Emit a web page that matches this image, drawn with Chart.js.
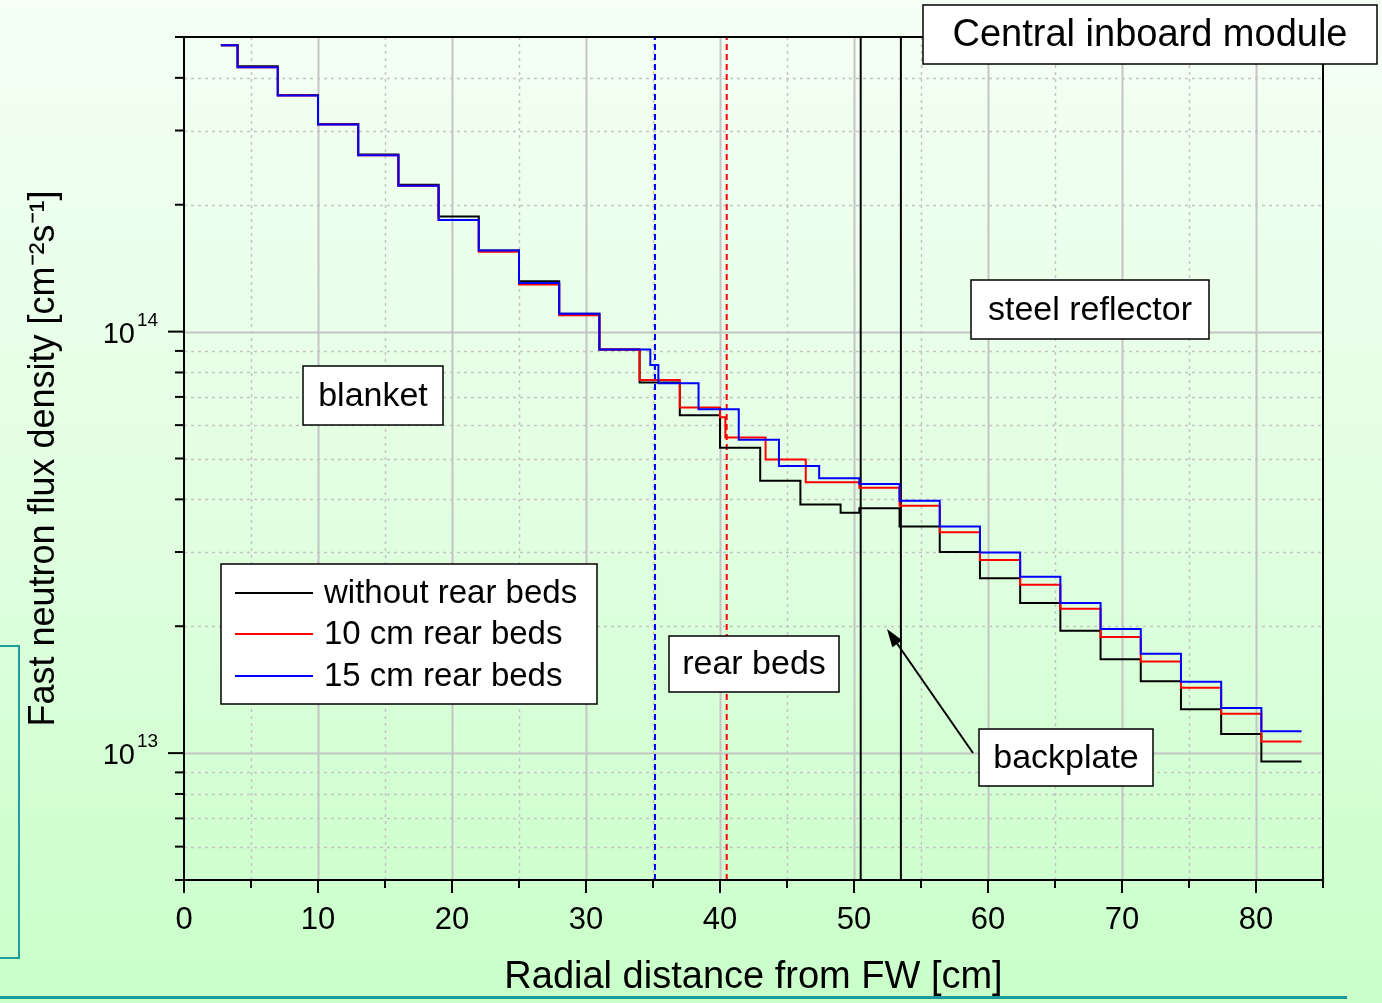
<!DOCTYPE html>
<html>
<head>
<meta charset="utf-8">
<script src="https://cdn.jsdelivr.net/npm/chart.js@4.4.1/dist/chart.umd.min.js"></script>
<style>
  html, body {
    margin: 0;
    padding: 0;
    width: 1382px;
    height: 1003px;
    overflow: hidden;
    background: linear-gradient(to bottom, #f5fff5 0%, #e4ffe4 45%, #c9ffc9 100%);
  }
  #wrap { position: relative; width: 1382px; height: 1003px; }
  #chart { position: absolute; left: 0; top: 0; z-index: 2; }
  .side-box {
    position: absolute; left: -2px; top: 645px; width: 18px; height: 310px;
    border: 2px solid #1f9e9e; z-index: 1;
  }
  .bottom-rule {
    position: absolute; left: 0; top: 996px; width: 1347px; height: 3px;
    background: #1a9a9a; z-index: 1;
  }
</style>
</head>
<body>
<div id="wrap">
  <div class="side-box"></div>
  <div class="bottom-rule"></div>
  <canvas id="chart" width="1382" height="1003"></canvas>
</div>
<script>
// step edges (cm) and flux per bin (cm^-2 s^-1)
const edgesNoBeds = [2.75, 4, 7, 10, 13, 16, 19, 22, 25, 28, 31, 34, 37, 40, 43, 46, 49, 50.4,
  53.4, 56.4, 59.4, 62.4, 65.4, 68.4, 71.4, 74.4, 77.4, 80.4, 83.4];
const fluxNoBeds = [4.78e14, 4.26e14, 3.64e14, 3.11e14, 2.63e14, 2.23e14, 1.875e14, 1.557e14,
  1.316e14, 1.102e14, 9.07e13, 7.57e13, 6.33e13, 5.30e13, 4.43e13, 3.89e13, 3.72e13, 3.81e13,
  3.45e13, 3.00e13, 2.60e13, 2.27e13, 1.95e13, 1.67e13, 1.48e13, 1.27e13, 1.11e13, 9.55e12];

const edges10cm = [2.75, 4, 7, 10, 13, 16, 19, 22, 25, 28, 31, 34, 37, 40, 40.4, 43.4, 46.4, 50.4,
  53.4, 56.4, 59.4, 62.4, 65.4, 68.4, 71.4, 74.4, 77.4, 80.4, 83.4];
const flux10cm = [4.78e14, 4.24e14, 3.63e14, 3.10e14, 2.62e14, 2.22e14, 1.84e14, 1.546e14,
  1.294e14, 1.094e14, 9.07e13, 7.68e13, 6.61e13, 6.26e13, 5.61e13, 4.97e13, 4.39e13, 4.26e13,
  3.86e13, 3.34e13, 2.87e13, 2.51e13, 2.20e13, 1.885e13, 1.65e13, 1.43e13, 1.24e13, 1.066e13];

const edges15cm = [2.75, 4, 7, 10, 13, 16, 19, 22, 25, 28, 31, 34.8, 35.4, 38.4, 41.4, 44.4, 47.4,
  50.4, 53.4, 56.4, 59.4, 62.4, 65.4, 68.4, 71.4, 74.4, 77.4, 80.4, 83.4];
const flux15cm = [4.78e14, 4.24e14, 3.63e14, 3.10e14, 2.62e14, 2.22e14, 1.84e14, 1.557e14,
  1.304e14, 1.102e14, 9.07e13, 8.33e13, 7.54e13, 6.54e13, 5.54e13, 4.80e13, 4.49e13, 4.35e13,
  3.97e13, 3.45e13, 2.99e13, 2.62e13, 2.27e13, 1.97e13, 1.72e13, 1.477e13, 1.279e13, 1.127e13];

// region boundaries: 15 cm beds end, 10 cm beds end, backplate front / back
const boundaryX = [35.15, 40.5, 50.5, 53.5];

const seriesNames = ['without rear beds', '10 cm rear beds', '15 cm rear beds'];
const xTickLabels = [0, 10, 20, 30, 40, 50, 60, 70, 80];
const yDecades = [13, 14];
const xRange = [0, 85];
const yRange = [5e12, 5e14];

const FONT = '"Liberation Sans", Arial, Helvetica, sans-serif';
Chart.defaults.font.family = FONT;
Chart.defaults.color = '#000';

const toSteps = (edges, vals) => {
  const pts = vals.map((v, i) => ({x: edges[i], y: v}));
  pts.push({x: edges[edges.length - 1], y: vals[vals.length - 1]});
  return pts;
};
const vline = x => [{x: x, y: yRange[0]}, {x: x, y: yRange[1]}];

// chart.js 'before' = horizontal first, then the vertical drop at the next edge
const stepStyle = {stepped: 'before', borderWidth: 2, pointRadius: 0, fill: false};

const drawBox = (ctx, text, left, top, w, h, size) => {
  ctx.save();
  ctx.fillStyle = '#fff';
  ctx.fillRect(left, top, w, h);
  ctx.strokeStyle = '#000';
  ctx.lineWidth = 1.5;
  ctx.strokeRect(left, top, w, h);
  ctx.fillStyle = '#000';
  ctx.font = size + 'px ' + FONT;
  ctx.textAlign = 'center';
  ctx.textBaseline = 'middle';
  ctx.fillText(text, left + w / 2, top + h / 2 + 1);
  ctx.restore();
};

const framePlugin = {
  id: 'frame',
  beforeDatasetsDraw(chart) {
    const {ctx, chartArea: a, scales: {x, y}} = chart;
    ctx.save();
    // vertical grid
    for (let v = xRange[0] + 5; v < xRange[1]; v += 5) {
      const px = Math.round(x.getPixelForValue(v)) + 0.5;
      const major = v % 10 === 0;
      ctx.strokeStyle = '#c4c4c4';
      ctx.lineWidth = major ? 2 : 1.5;
      ctx.setLineDash(major ? [] : [3, 4]);
      ctx.beginPath();
      ctx.moveTo(px, a.top);
      ctx.lineTo(px, a.bottom);
      ctx.stroke();
    }
    // horizontal grid
    for (let d = 12; d <= 14; d++) {
      for (let m = 1; m <= 9; m++) {
        const v = m * Math.pow(10, d);
        if (v <= yRange[0] || v >= yRange[1]) continue;
        const py = Math.round(y.getPixelForValue(v)) + 0.5;
        ctx.strokeStyle = '#c4c4c4';
        ctx.lineWidth = m === 1 ? 2 : 1.5;
        ctx.setLineDash(m === 1 ? [] : [3, 4]);
        ctx.beginPath();
        ctx.moveTo(a.left, py);
        ctx.lineTo(a.right, py);
        ctx.stroke();
      }
    }
    ctx.restore();
  },
  afterDatasetsDraw(chart) {
    const {ctx, chartArea: a, scales: {x, y}} = chart;
    ctx.save();
    ctx.strokeStyle = '#000';
    ctx.lineWidth = 2;
    ctx.setLineDash([]);
    ctx.strokeRect(a.left, a.top, a.right - a.left, a.bottom - a.top);

    // x ticks
    for (let v = xRange[0]; v <= xRange[1]; v += 5) {
      const px = x.getPixelForValue(v);
      const len = v % 10 === 0 ? 13 : 8;
      ctx.beginPath();
      ctx.moveTo(px, a.bottom);
      ctx.lineTo(px, a.bottom + len);
      ctx.stroke();
    }
    // y ticks
    for (let d = 12; d <= 14; d++) {
      for (let m = 1; m <= 9; m++) {
        const v = m * Math.pow(10, d);
        if (v < yRange[0] || v > yRange[1]) continue;
        const py = y.getPixelForValue(v);
        const len = m === 1 ? 16 : 9;
        ctx.beginPath();
        ctx.moveTo(a.left - len, py);
        ctx.lineTo(a.left, py);
        ctx.stroke();
      }
    }
    // y tick labels 10^n
    ctx.fillStyle = '#000';
    yDecades.forEach(d => {
      const py = y.getPixelForValue(Math.pow(10, d));
      ctx.font = '29px ' + FONT;
      ctx.textAlign = 'right';
      ctx.textBaseline = 'alphabetic';
      ctx.fillText('10', a.left - 49, py + 11);
      ctx.font = '19px ' + FONT;
      ctx.textAlign = 'left';
      ctx.fillText(String(d), a.left - 47, py - 6);
    });

    // annotation boxes
    drawBox(ctx, 'Central inboard module', 923, 5, 454, 59, 38);
    drawBox(ctx, 'steel reflector', 971, 280, 238, 59, 34);
    drawBox(ctx, 'blanket', 303, 366, 140, 59, 34);
    drawBox(ctx, 'rear beds', 669, 636, 170, 56, 34);
    drawBox(ctx, 'backplate', 979, 729, 174, 57, 34);

    // arrow to backplate
    const tail = [973, 753], tip = [887, 629];
    const ang = Math.atan2(tip[1] - tail[1], tip[0] - tail[0]);
    ctx.strokeStyle = '#000';
    ctx.lineWidth = 2;
    ctx.beginPath();
    ctx.moveTo(tail[0], tail[1]);
    ctx.lineTo(tip[0] - 10 * Math.cos(ang), tip[1] - 10 * Math.sin(ang));
    ctx.stroke();
    ctx.beginPath();
    ctx.moveTo(tip[0], tip[1]);
    ctx.lineTo(tip[0] - 18 * Math.cos(ang) + 6 * Math.sin(ang), tip[1] - 18 * Math.sin(ang) - 6 * Math.cos(ang));
    ctx.lineTo(tip[0] - 18 * Math.cos(ang) - 6 * Math.sin(ang), tip[1] - 18 * Math.sin(ang) + 6 * Math.cos(ang));
    ctx.closePath();
    ctx.fillStyle = '#000';
    ctx.fill();

    // legend
    ctx.fillStyle = '#fff';
    ctx.fillRect(221, 564, 376, 140);
    ctx.strokeStyle = '#000';
    ctx.lineWidth = 1.5;
    ctx.strokeRect(221, 564, 376, 140);
    const legendColors = ['#000000', '#ff0000', '#0000ff'];
    const rows = [593, 634, 676];
    seriesNames.forEach((name, i) => {
      ctx.strokeStyle = legendColors[i];
      ctx.lineWidth = 2;
      ctx.beginPath();
      ctx.moveTo(235, rows[i]);
      ctx.lineTo(313, rows[i]);
      ctx.stroke();
      ctx.fillStyle = '#000';
      ctx.font = '33px ' + FONT;
      ctx.textAlign = 'left';
      ctx.textBaseline = 'middle';
      ctx.fillText(name, 324, rows[i] + 1);
    });
    ctx.restore();
  },
};

const ctx = document.getElementById('chart');
new Chart(ctx, {
  type: 'line',
  data: {
    datasets: [
      {label: seriesNames[0], data: toSteps(edgesNoBeds, fluxNoBeds), borderColor: '#000000', order: 3, ...stepStyle},
      {label: seriesNames[1], data: toSteps(edges10cm, flux10cm), borderColor: '#ff0000', order: 2, ...stepStyle},
      {label: seriesNames[2], data: toSteps(edges15cm, flux15cm), borderColor: '#0000ff', order: 1, ...stepStyle},
      {data: vline(boundaryX[0]), borderColor: '#0000ff', borderWidth: 2, borderDash: [6, 4], pointRadius: 0, order: 4},
      {data: vline(boundaryX[1]), borderColor: '#ff0000', borderWidth: 2, borderDash: [6, 4], pointRadius: 0, order: 4},
      {data: vline(boundaryX[2]), borderColor: '#000000', borderWidth: 2, pointRadius: 0, order: 4},
      {data: vline(boundaryX[3]), borderColor: '#000000', borderWidth: 2, pointRadius: 0, order: 4},
    ],
  },
  options: {
    responsive: false,
    animation: false,
    layout: {padding: {top: 37, right: 59, left: 0, bottom: 0}},
    plugins: {legend: {display: false}, tooltip: {enabled: false}},
    scales: {
      x: {
        type: 'linear',
        min: xRange[0],
        max: xRange[1],
        grid: {display: false},
        border: {display: false},
        ticks: {
          stepSize: 5,
          autoSkip: false,
          maxRotation: 0,
          padding: 14,
          font: {size: 31},
          callback: v => (xTickLabels.includes(v) ? String(v) : ''),
        },
        title: {
          display: true,
          text: 'Radial distance from FW [cm]',
          font: {size: 38},
          padding: {top: 0, bottom: 3},
        },
        afterFit: s => { s.height = 123; },
      },
      y: {
        type: 'logarithmic',
        min: yRange[0],
        max: yRange[1],
        grid: {display: false},
        border: {display: false},
        ticks: {display: false},
        title: {
          display: true,
          text: 'Fast neutron flux density [cm\u207B\u00B2s\u207B\u00B9]',
          font: {size: 36},
          padding: {top: 22, bottom: 0},
        },
        afterFit: s => { s.width = 184; },
      },
    },
  },
  plugins: [framePlugin],
});
</script>
</body>
</html>
